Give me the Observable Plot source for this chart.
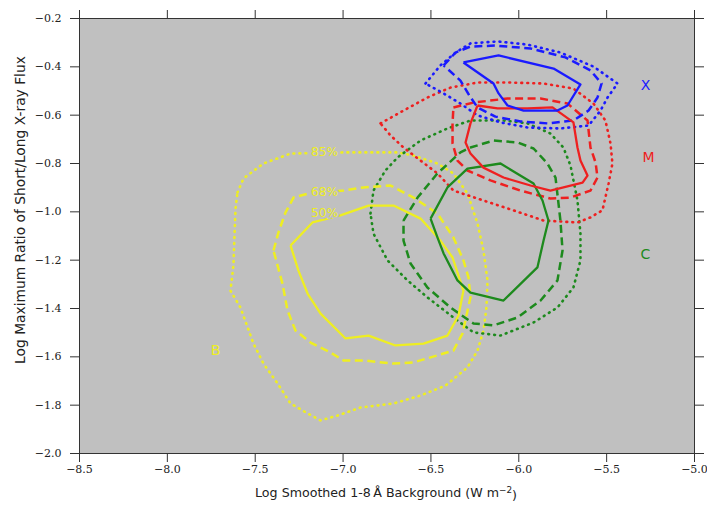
<!DOCTYPE html>
<html>
<head>
<meta charset="utf-8">
<script src="https://cdn.jsdelivr.net/npm/d3@7"></script>
<script src="https://cdn.jsdelivr.net/npm/@observablehq/plot@0.6"></script>
<style>
  html, body { margin: 0; padding: 0; background: #ffffff; }
  #chart svg { display: block; }
</style>
</head>
<body>
<div id="chart"></div>
<script>
// ---- axis ticks ----
const xTicks = [-8.5, -8.0, -7.5, -7.0, -6.5, -6.0, -5.5, -5.0];
const yTicks = [-2.0, -1.8, -1.6, -1.4, -1.2, -1.0, -0.8, -0.6, -0.4, -0.2];

// ---- flare classes ----
const classes = ["B", "C", "M", "X"];
const classColors = ["#eeee22", "#1d8a1d", "#ee2020", "#1a1aff"];
const classLabelX = [-7.726, -5.279, -5.262, -5.279];
const classLabelY = [-1.574, -1.177, -0.775, -0.477];

// ---- contour levels ----
const levels = ["50%", "68%", "85%"];
const levelLabelX = [-7.106, -7.106, -7.106];
const levelLabelY = [-1.007, -0.920, -0.752];

// ---- contours (x: log background, y: log ratio) ----
const X50 = [[-6.315,-0.382],[-6.115,-0.353],[-5.802,-0.407],[-5.649,-0.473],[-5.723,-0.560],[-5.780,-0.581],[-5.973,-0.581],[-6.064,-0.560],[-6.115,-0.510],[-6.144,-0.469]];
const X68 = [[-6.428,-0.394],[-6.360,-0.341],[-6.275,-0.316],[-6.133,-0.312],[-5.933,-0.324],[-5.734,-0.361],[-5.592,-0.415],[-5.529,-0.469],[-5.552,-0.527],[-5.603,-0.581],[-5.689,-0.622],[-5.837,-0.634],[-5.990,-0.626],[-6.133,-0.606],[-6.235,-0.568],[-6.281,-0.519],[-6.332,-0.457]];
const X85 = [[-6.531,-0.469],[-6.446,-0.394],[-6.360,-0.341],[-6.275,-0.303],[-6.121,-0.295],[-5.950,-0.308],[-5.763,-0.341],[-5.575,-0.399],[-5.438,-0.469],[-5.495,-0.527],[-5.535,-0.581],[-5.603,-0.643],[-5.763,-0.655],[-5.950,-0.651],[-6.104,-0.630],[-6.235,-0.601],[-6.332,-0.552],[-6.428,-0.510]];

const M50 = [[-6.235,-0.560],[-6.121,-0.572],[-5.950,-0.572],[-5.808,-0.568],[-5.689,-0.630],[-5.666,-0.734],[-5.649,-0.788],[-5.609,-0.850],[-5.637,-0.879],[-5.820,-0.912],[-5.933,-0.891],[-6.087,-0.858],[-6.201,-0.817],[-6.275,-0.759],[-6.303,-0.713],[-6.275,-0.634]];
const M68 = [[-6.372,-0.568],[-6.258,-0.548],[-6.064,-0.531],[-5.876,-0.531],[-5.723,-0.552],[-5.609,-0.622],[-5.592,-0.734],[-5.563,-0.796],[-5.552,-0.858],[-5.592,-0.912],[-5.706,-0.941],[-5.820,-0.945],[-5.990,-0.912],[-6.161,-0.870],[-6.292,-0.829],[-6.349,-0.788],[-6.377,-0.717],[-6.377,-0.634]];
const M85 = [[-6.787,-0.634],[-6.656,-0.581],[-6.520,-0.527],[-6.389,-0.486],[-6.235,-0.465],[-6.047,-0.465],[-5.859,-0.469],[-5.689,-0.490],[-5.575,-0.552],[-5.507,-0.622],[-5.478,-0.717],[-5.467,-0.800],[-5.489,-0.883],[-5.524,-0.994],[-5.592,-1.023],[-5.666,-1.044],[-5.859,-1.036],[-6.030,-0.994],[-6.201,-0.953],[-6.372,-0.912],[-6.463,-0.841],[-6.559,-0.788],[-6.656,-0.734],[-6.730,-0.684]];

const C50 = [[-6.502,-1.028],[-6.406,-0.899],[-6.292,-0.821],[-6.104,-0.800],[-5.916,-0.883],[-5.865,-0.953],[-5.831,-1.036],[-5.859,-1.119],[-5.894,-1.230],[-6.087,-1.367],[-6.275,-1.334],[-6.349,-1.284],[-6.428,-1.172],[-6.463,-1.106]];
const C68 = [[-6.656,-1.036],[-6.576,-0.941],[-6.463,-0.841],[-6.332,-0.754],[-6.275,-0.734],[-6.144,-0.705],[-6.007,-0.713],[-5.916,-0.738],[-5.837,-0.800],[-5.791,-0.858],[-5.763,-1.036],[-5.751,-1.160],[-5.780,-1.284],[-5.876,-1.367],[-6.007,-1.437],[-6.144,-1.470],[-6.258,-1.462],[-6.389,-1.396],[-6.520,-1.313],[-6.616,-1.214],[-6.656,-1.119]];
const C85 = [[-6.844,-1.007],[-6.827,-0.912],[-6.759,-0.829],[-6.690,-0.775],[-6.559,-0.705],[-6.406,-0.655],[-6.275,-0.622],[-6.087,-0.622],[-5.950,-0.634],[-5.820,-0.676],[-5.746,-0.734],[-5.706,-0.808],[-5.666,-0.953],[-5.649,-1.090],[-5.649,-1.201],[-5.689,-1.313],[-5.780,-1.396],[-5.916,-1.458],[-6.104,-1.512],[-6.258,-1.499],[-6.372,-1.437],[-6.520,-1.354],[-6.633,-1.284],[-6.747,-1.201],[-6.827,-1.090]];

const B50 = [[-7.299,-1.139],[-7.174,-1.044],[-7.015,-1.015],[-6.855,-0.974],[-6.713,-0.974],[-6.559,-1.028],[-6.446,-1.119],[-6.377,-1.189],[-6.315,-1.326],[-6.343,-1.429],[-6.406,-1.512],[-6.542,-1.545],[-6.702,-1.553],[-6.855,-1.512],[-6.986,-1.524],[-7.128,-1.421],[-7.202,-1.338],[-7.254,-1.243]];
const B68 = [[-7.396,-1.160],[-7.368,-1.086],[-7.328,-1.003],[-7.282,-0.941],[-7.197,-0.924],[-6.998,-0.912],[-6.884,-0.899],[-6.730,-0.891],[-6.599,-0.941],[-6.463,-1.007],[-6.372,-1.106],[-6.315,-1.201],[-6.286,-1.272],[-6.275,-1.354],[-6.320,-1.503],[-6.372,-1.574],[-6.463,-1.594],[-6.599,-1.623],[-6.713,-1.628],[-6.884,-1.615],[-6.998,-1.615],[-7.072,-1.582],[-7.185,-1.541],[-7.271,-1.491],[-7.316,-1.408],[-7.345,-1.297]];
const B85 = [[-7.601,-0.920],[-7.567,-0.862],[-7.453,-0.800],[-7.299,-0.759],[-6.998,-0.754],[-6.690,-0.754],[-6.599,-0.767],[-6.463,-0.800],[-6.372,-0.841],[-6.292,-0.924],[-6.235,-1.048],[-6.201,-1.160],[-6.178,-1.284],[-6.184,-1.396],[-6.201,-1.491],[-6.235,-1.574],[-6.292,-1.644],[-6.417,-1.719],[-6.559,-1.760],[-6.713,-1.793],[-6.901,-1.810],[-7.032,-1.843],[-7.128,-1.863],[-7.202,-1.834],[-7.299,-1.793],[-7.373,-1.710],[-7.453,-1.628],[-7.510,-1.545],[-7.584,-1.396],[-7.641,-1.326],[-7.624,-1.222],[-7.618,-1.098],[-7.612,-0.986]];

// ---- build tables for the library ----
const contourList = [
  ["B", "85%", B85], ["C", "85%", C85], ["M", "85%", M85], ["X", "85%", X85],
  ["B", "68%", B68], ["C", "68%", C68], ["M", "68%", M68], ["X", "68%", X68],
  ["B", "50%", B50], ["C", "50%", C50], ["M", "50%", M50], ["X", "50%", X50]
];
const rows = contourList.flatMap(([cls, level, pts]) =>
  [...pts, pts[0]].map(([x, y], i) => ({cls, level, id: cls + level, x, y, i}))
);
const classLabels = classes.map((c, i) => ({cls: c, x: classLabelX[i], y: classLabelY[i]}));
const levelLabels = levels.map((l, i) => ({text: l, x: levelLabelX[i], y: levelLabelY[i]}));

const styleByLevel = {
  "50%": {strokeWidth: 2.3, strokeDasharray: null, cap: "butt"},
  "68%": {strokeWidth: 2.5, strokeDasharray: "8,4.5", cap: "butt"},
  "85%": {strokeWidth: 2.6, strokeDasharray: "0.8,5.2", cap: "round"}
};

const fmt = d => (d < 0 ? "\u2212" : "") + Math.abs(d).toFixed(1);
const BG = "#c0c0c0";
const AX = "#333333";
const SERIF = "DejaVu Serif";
const SANS = "DejaVu Sans";

const lineMarks = ["85%", "68%", "50%"].map(l =>
  Plot.line(rows.filter(r => r.level === l), {
    x: "x", y: "y", z: "id", stroke: "cls",
    strokeWidth: styleByLevel[l].strokeWidth,
    strokeDasharray: styleByLevel[l].strokeDasharray,
    strokeLinecap: styleByLevel[l].cap,
    strokeLinejoin: "round",
    curve: "linear"
  })
);

const chart = Plot.plot({
  width: 707,
  height: 511,
  marginLeft: 79,
  marginRight: 13,
  marginTop: 18,
  marginBottom: 58,
  style: {background: "#ffffff", fontFamily: SERIF, fontSize: "11px", color: AX},
  x: {domain: [-8.5, -5.0]},
  y: {domain: [-2.0, -0.2]},
  color: {domain: classes, range: classColors},
  marks: [
    Plot.frame({fill: BG}),
    ...lineMarks,
    Plot.text(levelLabels, {x: "x", y: "y", text: "text", fill: classColors[0], stroke: BG, strokeWidth: 4, fontSize: 12, fontFamily: SANS}),
    Plot.text(classLabels, {x: "x", y: "y", text: "cls", fill: "cls", fontSize: 14, fontFamily: SANS}),
    Plot.frame({stroke: AX, strokeWidth: 1}),
    Plot.axisX({ticks: xTicks, tickSize: 9, tickPadding: 3, tickFormat: fmt, label: null, stroke: AX, fill: "#222", fontFamily: SERIF, fontSize: 11}),
    Plot.axisX({anchor: "top", ticks: xTicks, tickSize: 9, tickFormat: () => "", label: null, stroke: AX}),
    Plot.axisY({ticks: yTicks, tickSize: 9, tickPadding: 9, tickFormat: fmt, label: null, stroke: AX, fill: "#222", fontFamily: SERIF, fontSize: 11}),
    Plot.axisY({anchor: "right", ticks: yTicks, tickSize: 9, tickFormat: () => "", label: null, stroke: AX})
  ]
});

document.getElementById("chart").appendChild(chart);

// ---- axis titles ----
const svg = d3.select(chart);
function fitText(node, target, base) {
  const len = node.getComputedTextLength();
  if (len > 0) node.style.fontSize = (base * target / len).toFixed(2) + "px";
}
const yTitle = svg.append("text")
  .attr("transform", "translate(21,210) rotate(-90)")
  .attr("text-anchor", "middle")
  .attr("dominant-baseline", "middle")
  .attr("fill", "#222")
  .style("font-family", SANS)
  .style("font-size", "13px")
  .text("Log Maximum Ratio of Short/Long X-ray Flux");
fitText(yTitle.node(), 308, 13);

const xTitle = svg.append("text")
  .attr("x", 386)
  .attr("y", 497)
  .attr("text-anchor", "middle")
  .attr("fill", "#222")
  .style("font-family", SANS)
  .style("font-size", "13px");
xTitle.append("tspan").text("Log Smoothed 1-8\u2009\u00C5 Background (W m");
xTitle.append("tspan").attr("dy", "-0.45em").style("font-size", "0.7em").text("\u22122");
xTitle.append("tspan").attr("dy", "0.45em").text(")");
fitText(xTitle.node(), 262, 13);
</script>
</body>
</html>
